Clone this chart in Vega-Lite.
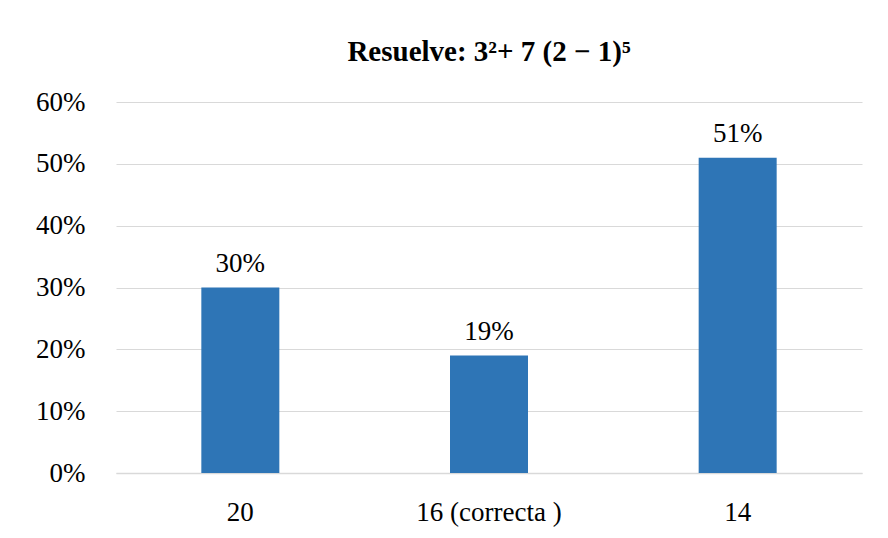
{
  "$schema": "https://vega.github.io/schema/vega-lite/v6.json",
  "width": 746,
  "height": 371,
  "autosize": {"type": "none"},
  "padding": {"left": 116, "top": 102, "right": 26, "bottom": 65},
  "background": "white",
  "title": {
    "text": "Resuelve: 3²+ 7 (2 − 1)⁵",
    "font": "Liberation Serif, Times New Roman, serif",
    "fontSize": 29,
    "fontWeight": "bold",
    "color": "#000000",
    "anchor": "middle",
    "offset": 21
  },
  "data": {
    "values": [
      {"opcion": "20", "valor": 0.30},
      {"opcion": "16 (correcta )", "valor": 0.19},
      {"opcion": "14", "valor": 0.51}
    ]
  },
  "encoding": {
    "x": {
      "field": "opcion",
      "type": "nominal",
      "sort": null,
      "scale": {"paddingInner": 0, "paddingOuter": 0},
      "axis": {
        "title": null,
        "labelAngle": 0,
        "labelFont": "Liberation Serif, Times New Roman, serif",
        "labelFontSize": 27,
        "labelColor": "#000000",
        "labelPadding": 26,
        "ticks": false,
        "domainColor": "#d9d9d9",
        "domainWidth": 1.5
      }
    },
    "y": {
      "field": "valor",
      "type": "quantitative",
      "scale": {"domain": [0, 0.6]},
      "axis": {
        "title": null,
        "format": ".0%",
        "values": [0, 0.1, 0.2, 0.3, 0.4, 0.5, 0.6],
        "labelOverlap": false,
        "labelFont": "Liberation Serif, Times New Roman, serif",
        "labelFontSize": 27,
        "labelColor": "#000000",
        "labelPadding": 31,
        "ticks": false,
        "domain": false,
        "gridColor": "#d9d9d9",
        "gridWidth": 1.2
      }
    }
  },
  "layer": [
    {"mark": {"type": "bar", "width": 78, "color": "#2e75b6"}},
    {
      "mark": {"type": "text", "baseline": "bottom", "dy": -10, "font": "Liberation Serif, Times New Roman, serif", "fontSize": 27, "color": "#000000"},
      "encoding": {"text": {"field": "valor", "type": "quantitative", "format": ".0%"}}
    }
  ],
  "config": {"view": {"stroke": null}}
}
